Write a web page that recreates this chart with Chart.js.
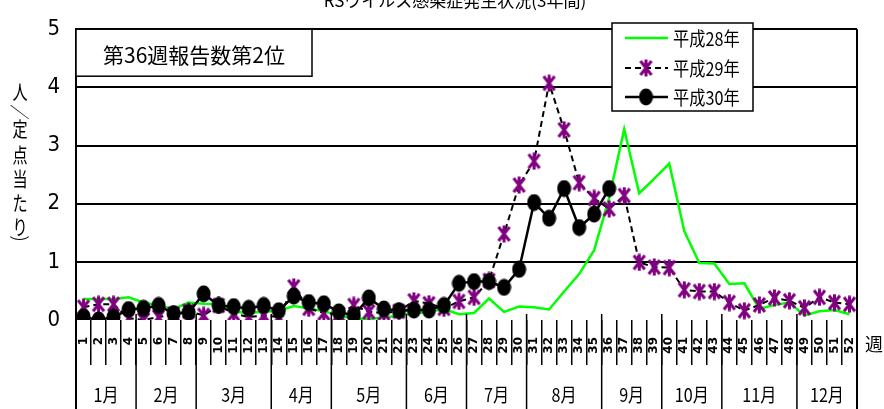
<!DOCTYPE html>
<html><head><meta charset="utf-8">
<script src="https://cdn.jsdelivr.net/npm/chart.js@4"></script>
<style>html,body{margin:0;padding:0;background:#fff;}canvas{display:block;}</style>
</head><body>
<canvas id="c" width="884" height="409"></canvas>
<script>
const weeks = ['1','2','3','4','5','6','7','8','9','10','11','12','13','14','15','16','17','18','19','20','21','22','23','24','25','26','27','28','29','30','31','32','33','34','35','36','37','38','39','40','41','42','43','44','45','46','47','48','49','50','51','52'];
const months = ['1月','2月','3月','4月','5月','6月','7月','8月','9月','10月','11月','12月'];
const monthEndWeeks = [4,8,13,17,22,26,30,35,39,43,48,52];
const seriesNames = ['平成28年','平成29年','平成30年'];
const h28 = [0.36,0.36,0.36,0.39,0.30,0.25,0.19,0.30,0.28,0.27,0.14,0.12,0.14,0.16,0.24,0.20,0.15,0.08,0.02,0.02,0.04,0.08,0.11,0.14,0.19,0.10,0.12,0.37,0.14,0.23,0.22,0.18,0.49,0.79,1.20,2.10,3.28,2.18,2.43,2.69,1.53,0.98,0.97,0.62,0.63,0.19,0.26,0.30,0.08,0.15,0.17,0.10];
const h29 = [0.22,0.27,0.27,0.03,0.00,0.05,0.10,0.15,0.08,0.25,0.11,0.05,0.08,0.05,0.57,0.20,0.12,0.10,0.25,0.14,0.12,0.15,0.33,0.28,0.20,0.32,0.39,0.68,1.48,2.32,2.73,4.07,3.27,2.36,2.09,1.91,2.14,0.99,0.91,0.90,0.52,0.49,0.49,0.30,0.16,0.26,0.38,0.33,0.21,0.39,0.30,0.27];
const h30 = [0.05,0.00,0.05,0.18,0.20,0.25,0.11,0.13,0.45,0.25,0.23,0.20,0.25,0.16,0.41,0.30,0.28,0.14,0.08,0.38,0.19,0.16,0.17,0.17,0.25,0.63,0.66,0.66,0.56,0.87,2.02,1.75,2.26,1.59,1.82,2.26];
const titleText = 'RSウイルス感染症発生状況(3年間)';
const noteText = '第36週報告数第2位';
const yTitleChars = ['人','／','定','点','当','た','り','）'];
const xUnit = '週';

function makeStar(){
  const c = document.createElement('canvas'); c.width = 15; c.height = 18;
  const g = c.getContext('2d');
  g.strokeStyle = '#800080'; g.lineWidth = 3; g.lineCap = 'butt';
  g.beginPath();
  g.moveTo(2,2); g.lineTo(13,16);
  g.moveTo(13,2); g.lineTo(2,16);
  g.moveTo(7.5,0.5); g.lineTo(7.5,17.5);
  g.stroke();
  return c;
}
function makeDot(){
  const c = document.createElement('canvas'); c.width = 15; c.height = 18;
  const g = c.getContext('2d');
  g.fillStyle = '#000';
  g.beginPath(); g.ellipse(7.5,9,7,8.5,0,0,Math.PI*2); g.fill();
  return c;
}
const starImg = makeStar();
const dotImg = makeDot();

const CJK = "'Noto Sans CJK JP', 'Noto Sans', sans-serif";
const NARROW = "'Liberation Sans Narrow', 'DejaVu Sans Condensed', 'Liberation Sans', sans-serif";

const decor = {
  id: 'decor',
  afterDraw(chart){
    const ctx = chart.ctx, xs = chart.scales.x, ca = chart.chartArea;
    ctx.save();
    ctx.strokeStyle = '#000'; ctx.lineWidth = 2;
    ctx.beginPath();
    ctx.moveTo(ca.left, ca.top); ctx.lineTo(ca.left, 409);
    ctx.moveTo(ca.right, ca.top); ctx.lineTo(ca.right, 409);
    ctx.stroke();
    ctx.lineWidth = 1.5;
    let prev = ca.left;
    ctx.fillStyle = '#000';
    ctx.font = '19px ' + CJK;
    ctx.textAlign = 'center'; ctx.textBaseline = 'middle';
    monthEndWeeks.forEach((w, i) => {
      const x = (i === monthEndWeeks.length - 1) ? ca.right : (xs.getPixelForValue(w - 1) + xs.getPixelForValue(w)) / 2;
      ctx.beginPath(); ctx.moveTo(x, ca.bottom - 6); ctx.lineTo(x, 409); ctx.stroke();
      ctx.save();
      ctx.translate((prev + x) / 2, 395);
      ctx.scale(0.85, 1);
      ctx.fillText(months[i], 0, 0);
      ctx.restore();
      prev = x;
    });
    ctx.font = '18px ' + CJK;
    ctx.fillText(xUnit, 874, 344);
    ctx.font = '17px ' + CJK;
    ctx.textBaseline = 'alphabetic';
    ctx.fillText(titleText, 455, 7);
    const ypos = [92, 112, 129, 155, 179, 203, 227, 243];
    ctx.font = '21px ' + CJK; ctx.textBaseline = 'middle';
    yTitleChars.forEach((ch, i) => {
      ctx.save();
      ctx.translate(20, ypos[i]);
      if (ch === '）' || ch === '／') ctx.rotate(Math.PI / 2);
      ctx.scale(0.72, 0.95);
      ctx.fillText(ch, 0, 0);
      ctx.restore();
    });
    ctx.fillStyle = '#fff';
    ctx.fillRect(ca.left, ca.top, 236, 47);
    ctx.strokeStyle = '#000'; ctx.lineWidth = 1.5;
    ctx.strokeRect(ca.left, ca.top, 236, 47);
    ctx.fillStyle = '#000';
    ctx.font = '21px ' + CJK;
    ctx.fillText(noteText, ca.left + 118, ca.top + 26);
    const lx = 612, ly = 23, lw = 141, lh = 88;
    ctx.fillStyle = '#fff'; ctx.fillRect(lx, ly, lw, lh);
    ctx.strokeRect(lx, ly, lw, lh);
    const rows = [38, 68, 97];
    const dsets = chart.data.datasets;
    [0,1,2].forEach((di, r) => {
      const ds = dsets[di];
      const y = rows[r];
      ctx.save();
      ctx.strokeStyle = ds.borderColor; ctx.lineWidth = ds.borderWidth;
      ctx.setLineDash(ds.borderDash || []);
      ctx.beginPath(); ctx.moveTo(625, y); ctx.lineTo(668, y); ctx.stroke();
      ctx.restore();
      if (ds.pointStyle && typeof ds.pointStyle === 'object') {
        const img = ds.pointStyle;
        ctx.drawImage(img, 646 - img.width / 2, y - img.height / 2);
      }
      ctx.fillStyle = '#000'; ctx.textAlign = 'left'; ctx.textBaseline = 'middle';
      ctx.save();
      ctx.translate(673, y + 1);
      ctx.scale(0.9, 1.05);
      ctx.font = '18px ' + CJK;
      ctx.fillText(seriesNames[di], 0, 0);
      ctx.restore();
    });
    ctx.restore();
  }
};

new Chart(document.getElementById('c'), {
  type: 'line',
  data: {
    labels: weeks,
    datasets: [
      { label: seriesNames[0], data: h28, borderColor: '#00ff00', borderWidth: 2.5, pointRadius: 0, tension: 0, order: 3 },
      { label: seriesNames[1], data: h29, borderColor: '#000', borderWidth: 2, borderDash: [6, 4], pointStyle: starImg, pointRadius: 8, tension: 0, order: 2 },
      { label: seriesNames[2], data: h30, borderColor: '#000', borderWidth: 2.5, pointStyle: dotImg, pointRadius: 8, tension: 0, order: 1 }
    ]
  },
  options: {
    responsive: false, animation: false, devicePixelRatio: 1,
    layout: { padding: { top: 15, right: 27, left: 0, bottom: 0 } },
    plugins: { legend: { display: false }, tooltip: { enabled: false } },
    scales: {
      x: {
        offset: true,
        grid: { offset: true, drawOnChartArea: false, drawTicks: true, tickLength: 45, color: '#000', lineWidth: 1.5 },
        border: { display: false },
        ticks: { autoSkip: false, minRotation: 90, maxRotation: 90, padding: -28, color: '#000', font: { family: 'DejaVu Sans', size: 12, weight: 'bold' } },
        afterFit(s) { s.height = 89; }
      },
      y: {
        min: 0, max: 5,
        ticks: { stepSize: 1, padding: 16, color: '#000', font: { family: NARROW, size: 22 } },
        grid: { color: (c) => c.tick && c.tick.value === 0 ? 'rgba(0,0,0,0)' : '#000', lineWidth: 2, drawTicks: false },
        border: { display: true, color: '#000', width: 2 },
        afterFit(s) { s.width = 76; }
      }
    }
  },
  plugins: [decor]
});
</script>
</body></html>
